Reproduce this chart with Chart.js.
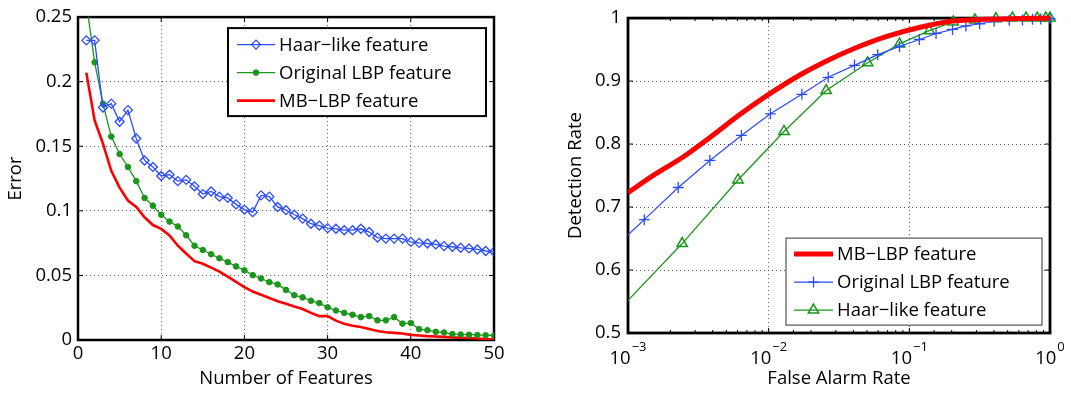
<!DOCTYPE html>
<html>
<head>
<meta charset="utf-8">
<script src="https://cdn.jsdelivr.net/npm/chart.js@4"></script>
<style>
  html, body { margin: 0; padding: 0; background: #fff; }
  #wrap { position: relative; width: 1071px; height: 394px; }
  canvas { position: absolute; top: 0; }
</style>
</head>
<body>
<div id="wrap">
  <canvas id="errChart" width="510" height="394" style="left:0"></canvas>
  <canvas id="rocChart" width="531" height="394" style="left:540px"></canvas>
</div>
<script>
// ---- left panel: error vs number of features
const numFeatures = [1,2,3,4,5,6,7,8,9,10,11,12,13,14,15,16,17,18,19,20,21,22,23,24,25,
  26,27,28,29,30,31,32,33,34,35,36,37,38,39,40,41,42,43,44,45,46,47,48,49,50];
const haarError = [0.232,0.232,0.180,0.183,0.169,0.178,0.156,0.139,0.134,0.127,0.128,0.123,0.124,0.119,0.113,
  0.115,0.111,0.110,0.105,0.101,0.099,0.112,0.111,0.103,0.1005,0.097,0.094,0.090,0.0886,0.0866,0.0861,0.085,
  0.085,0.0861,0.0836,0.0793,0.0785,0.0785,0.0785,0.076,0.0752,0.0747,0.074,0.0727,0.0722,0.0714,0.0709,0.0701,0.0689,0.0684];
const lbpError = [0.261,0.215,0.183,0.1575,0.144,0.134,0.123,0.110,0.104,0.097,0.0917,0.0879,0.0811,0.073,0.0697,
  0.0664,0.0633,0.0603,0.057,0.054,0.0502,0.0476,0.0448,0.043,0.0388,0.0347,0.033,0.0304,0.0286,0.0253,0.0228,
  0.021,0.0195,0.0177,0.0185,0.0152,0.0152,0.0177,0.0127,0.0132,0.0084,0.0076,0.0063,0.0058,0.0046,0.0043,0.0041,0.0039,0.0037,0.0035];
const mbError = [0.207,0.170,0.152,0.131,0.118,0.108,0.103,0.095,0.089,0.086,0.081,0.073,0.067,0.061,0.059,
  0.056,0.053,0.049,0.045,0.041,0.0375,0.035,0.0325,0.030,0.028,0.026,0.024,0.021,0.0185,0.0185,0.015,0.0125,
  0.011,0.010,0.0085,0.007,0.006,0.0055,0.005,0.004,0.0035,0.003,0.0027,0.0024,0.002,0.0018,0.0015,0.0012,0.0008,0.0005];
const errXTicks = ['0','10','20','30','40','50'];
const errYTicks = ['0','0.05','0.1','0.15','0.2','0.25'];

// ---- right panel: ROC (detection rate vs false alarm rate)
const mbFar  = [0.001,0.00158,0.00245,0.0038,0.00617,0.0102,0.0174,0.0269,0.0398,0.0684,0.1175,0.204,0.35,0.63,1];
const mbDet  = [0.723,0.753,0.779,0.810,0.846,0.880,0.912,0.934,0.951,0.9705,0.985,0.9953,0.998,0.9995,1.0];
const lbpFar = [0.000794,0.001306,0.002275,0.003819,0.006397,0.01028,0.01722,0.02649,0.04074,0.05957,0.08511,
  0.1178,0.1549,0.2028,0.2523,0.3162,0.4009,0.5129,0.6368,0.7499,0.859,1];
const lbpDet = [0.635,0.680,0.731,0.774,0.8137,0.848,0.879,0.906,0.925,0.942,0.955,
  0.966,0.9756,0.982,0.9876,0.991,0.995,0.9964,0.997,0.998,0.9985,0.999];
const haarFar = [0.000631,0.002427,0.006053,0.01285,0.02564,0.05058,0.08511,0.1387,0.2051,0.2924,0.4121,0.5408,0.6761,0.8128,0.9333,1];
const haarDet = [0.505,0.642,0.743,0.820,0.885,0.929,0.959,0.980,0.994,0.997,0.999,1.0,1.0,1.0,1.0,1.0];
const rocXTicks = [0.001, 0.01, 0.1, 1];
const rocXExps = ['\u22123', '\u22122', '\u22121', '0'];
const rocYTicks = ['0.5','0.6','0.7','0.8','0.9','1'];

const FONT = '"Open Sans", Lato, sans-serif';
const FS = 18.5;
Chart.defaults.font.family = FONT;
Chart.defaults.font.size = FS;
Chart.defaults.color = '#000';

const BLUE = '#2a4bff';
const GREEN = '#1a961a';
const RED = '#ff0000';

const pairs = (xs, ys) => xs.map((x, i) => ({ x: x, y: ys[i] }));
const isDecade = v => Math.abs(Math.log10(v) - Math.round(Math.log10(v))) < 1e-6;

// black box + inward tick marks around the plot area
const framePlugin = {
  id: 'frame',
  beforeDatasetsDraw(chart, args, opts) {
    const { ctx, chartArea: a, scales } = chart;
    ctx.save();
    ctx.strokeStyle = '#000';
    ctx.lineWidth = 1;
    const xs = scales.x, ys = scales.y;
    xs.ticks.forEach(t => {
      const px = xs.getPixelForValue(t.value);
      if (px <= a.left + 1 || px >= a.right - 1) return;
      const len = (xs.type === 'logarithmic' && !isDecade(t.value)) ? 3 : 5;
      ctx.beginPath();
      ctx.moveTo(px, a.bottom); ctx.lineTo(px, a.bottom - len);
      ctx.moveTo(px, a.top); ctx.lineTo(px, a.top + len);
      ctx.stroke();
    });
    ys.ticks.forEach(t => {
      const py = ys.getPixelForValue(t.value);
      if (py <= a.top + 1 || py >= a.bottom - 1) return;
      ctx.beginPath();
      ctx.moveTo(a.left, py); ctx.lineTo(a.left + 5, py);
      ctx.moveTo(a.right, py); ctx.lineTo(a.right - 5, py);
      ctx.stroke();
    });
    ctx.lineWidth = opts.width || 2.5;
    ctx.strokeRect(a.left, a.top, a.right - a.left, a.bottom - a.top);
    ctx.restore();
  }
};

// boxed legend drawn inside the axes
const boxLegendPlugin = {
  id: 'boxLegend',
  afterDraw(chart, args, o) {
    const { ctx, chartArea: a } = chart;
    const x0 = a.left + o.dx, y0 = a.top + o.dy;
    ctx.save();
    ctx.fillStyle = '#fff';
    ctx.fillRect(x0, y0, o.w, o.h);
    ctx.strokeStyle = o.borderColor;
    ctx.lineWidth = o.borderWidth;
    ctx.strokeRect(x0, y0, o.w, o.h);
    chart.data.datasets.forEach((ds, i) => {
      const y = y0 + o.firstRow + i * o.rowGap;
      ctx.strokeStyle = ds.borderColor;
      ctx.lineWidth = ds.borderWidth;
      ctx.beginPath();
      ctx.moveTo(x0 + o.lineStart, y);
      ctx.lineTo(x0 + o.lineEnd, y);
      ctx.stroke();
      if (ds.pointRadius > 0) {
        ctx.fillStyle = ds.pointBackgroundColor;
        ctx.strokeStyle = ds.pointBorderColor || ds.borderColor;
        ctx.lineWidth = ds.pointBorderWidth;
        Chart.helpers.drawPoint(ctx, {
          pointStyle: ds.pointStyle, radius: ds.pointRadius,
          rotation: 0, borderWidth: ds.pointBorderWidth
        }, x0 + (o.lineStart + o.lineEnd) / 2, y);
      }
      ctx.fillStyle = '#000';
      ctx.font = FS + 'px ' + FONT;
      ctx.textBaseline = 'middle';
      ctx.textAlign = 'left';
      ctx.fillText(ds.label, x0 + o.textStart, y + 1);
    });
    ctx.restore();
  }
};

// 10^n labels under the log axis
const powerLabelsPlugin = {
  id: 'powerLabels',
  afterDraw(chart) {
    const { ctx, chartArea: a, scales } = chart;
    ctx.save();
    ctx.fillStyle = '#000';
    ctx.textBaseline = 'alphabetic';
    rocXTicks.forEach((v, i) => {
      const px = scales.x.getPixelForValue(v);
      ctx.font = FS + 'px ' + FONT;
      const w1 = ctx.measureText('10').width;
      ctx.font = '13px ' + FONT;
      const w2 = ctx.measureText(rocXExps[i]).width;
      const left = px - (w1 + w2 + 1) / 2;
      ctx.font = FS + 'px ' + FONT;
      ctx.textAlign = 'left';
      ctx.fillText('10', left, a.bottom + 31);
      ctx.font = '13px ' + FONT;
      ctx.fillText(rocXExps[i], left + w1 + 1, a.bottom + 18);
    });
    ctx.restore();
  }
};

const gridDotted = { color: '#555', lineWidth: 1, drawTicks: false };

new Chart(document.getElementById('errChart'), {
  type: 'line',
  data: {
    labels: numFeatures,
    datasets: [
      { label: 'Haar\u2212like feature', data: pairs(numFeatures, haarError),
        borderColor: BLUE, borderWidth: 1.3, pointStyle: 'rectRot', pointRadius: 4.5,
        pointBorderWidth: 1.3, pointBorderColor: BLUE, pointBackgroundColor: 'rgba(255,255,255,0)' },
      { label: 'Original LBP feature', data: pairs(numFeatures, lbpError),
        borderColor: GREEN, borderWidth: 1.3, pointStyle: 'circle', pointRadius: 2.8,
        pointBorderWidth: 1, pointBorderColor: GREEN, pointBackgroundColor: GREEN },
      { label: 'MB\u2212LBP feature', data: pairs(numFeatures, mbError),
        borderColor: RED, borderWidth: 2.6, pointRadius: 0, pointBorderWidth: 0 }
    ]
  },
  options: {
    responsive: false,
    animation: false,
    layout: { padding: { top: 11, right: 16, bottom: 0, left: 0 } },
    plugins: {
      legend: { display: false },
      tooltip: { enabled: false },
      frame: { width: 2.5 },
      boxLegend: { dx: 150, dy: 11, w: 258, h: 88, borderColor: '#000', borderWidth: 2,
        firstRow: 16.5, rowGap: 28, lineStart: 9, lineEnd: 47, textStart: 51 }
    },
    scales: {
      x: {
        type: 'linear', min: 0, max: 50,
        ticks: { stepSize: 10, padding: 3, maxRotation: 0, callback: (v, i) => errXTicks[i] },
        grid: gridDotted,
        border: { display: false, dash: [1, 3] },
        title: { display: true, text: 'Number of Features', padding: { top: 0, bottom: 4 } },
        afterFit: s => { s.height = 54; }
      },
      y: {
        min: 0, max: 0.25,
        ticks: { stepSize: 0.05, padding: 6, callback: (v, i) => errYTicks[i] },
        grid: gridDotted,
        border: { display: false, dash: [1, 3] },
        title: { display: true, text: 'Error', padding: { top: 5, bottom: 0 } },
        afterFit: s => { s.width = 78; }
      }
    }
  },
  plugins: [framePlugin, boxLegendPlugin]
});

new Chart(document.getElementById('rocChart'), {
  type: 'line',
  data: {
    datasets: [
      { label: 'MB\u2212LBP feature', data: pairs(mbFar, mbDet),
        borderColor: RED, borderWidth: 5, pointRadius: 0, pointBorderWidth: 0,
        cubicInterpolationMode: 'monotone' },
      { label: 'Original LBP feature', data: pairs(lbpFar, lbpDet),
        borderColor: BLUE, borderWidth: 1.2, pointStyle: 'cross', pointRadius: 5.5,
        pointBorderWidth: 1.3, pointBorderColor: BLUE, pointBackgroundColor: 'rgba(255,255,255,0)' },
      { label: 'Haar\u2212like feature', data: pairs(haarFar, haarDet),
        borderColor: GREEN, borderWidth: 1.3, pointStyle: 'triangle', pointRadius: 6,
        pointBorderWidth: 1.5, pointBorderColor: GREEN, pointBackgroundColor: 'rgba(255,255,255,0)' }
    ]
  },
  options: {
    responsive: false,
    animation: false,
    layout: { padding: { top: 11, right: 21, bottom: 0, left: 0 } },
    datasets: { line: { clip: { left: 0, top: 12, right: 12, bottom: 0 } } },
    plugins: {
      legend: { display: false },
      tooltip: { enabled: false },
      frame: { width: 2.8 },
      boxLegend: { dx: 158, dy: 220, w: 256, h: 87, borderColor: '#333', borderWidth: 1,
        firstRow: 16, rowGap: 28, lineStart: 8, lineEnd: 47, textStart: 51 }
    },
    scales: {
      x: {
        type: 'logarithmic', min: 0.001, max: 1,
        ticks: { display: false, autoSkip: false },
        grid: { drawTicks: false, lineWidth: 1,
          color: c => (c.tick && isDecade(c.tick.value)) ? '#555' : 'rgba(0,0,0,0)' },
        border: { display: false, dash: [1, 3] },
        title: { display: true, text: 'False Alarm Rate', padding: { top: 0, bottom: 4 } },
        afterFit: s => { s.height = 61; }
      },
      y: {
        min: 0.5, max: 1,
        ticks: { stepSize: 0.1, padding: 7, callback: (v, i) => rocYTicks[i] },
        grid: gridDotted,
        border: { display: false, dash: [1, 3] },
        title: { display: true, text: 'Detection Rate', padding: { top: 25, bottom: 0 } },
        afterFit: s => { s.width = 88; }
      }
    }
  },
  plugins: [framePlugin, boxLegendPlugin, powerLabelsPlugin]
});
</script>
</body>
</html>
